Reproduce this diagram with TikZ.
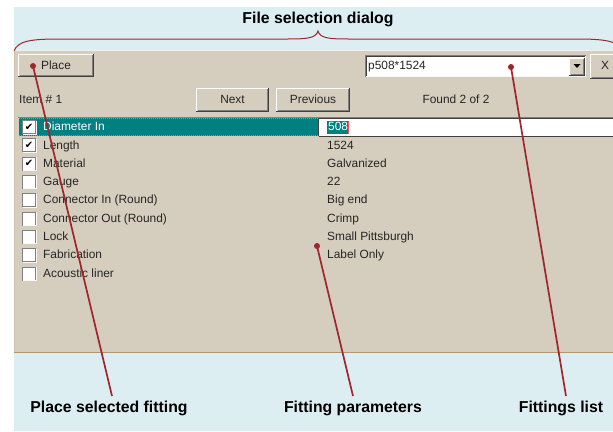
\documentclass[tikz,border=0pt]{standalone}
\usepackage{fontspec}
\setmainfont{Liberation Sans}
\newfontfamily\symfont{DejaVu Sans}
\definecolor{bgblue}{RGB}{221,238,243}
\definecolor{paneltan}{RGB}{213,205,189}
\definecolor{seltealc}{RGB}{0,128,128}
\definecolor{leaderred}{RGB}{158,38,44}
\definecolor{shadowgray}{RGB}{128,128,128}
\definecolor{darkedge}{RGB}{64,64,64}
\definecolor{paneledge}{RGB}{176,150,110}
\tikzset{
  dlgtext/.style={font=\fontsize{11.9}{13}\selectfont, text=black!85, inner sep=0pt, anchor=west, text height=9.8pt, text depth=2.4pt},
  calltext/.style={font=\fontsize{15.8}{18}\selectfont\bfseries, text=black, inner sep=0pt},
  leader/.style={draw=leaderred, line width=1.7pt},
  leaderdot/.style={circle, fill=leaderred, inner sep=0pt, minimum size=6pt},
  chkbox/.style={draw=shadowgray, fill=white, line width=0.8pt, minimum size=13pt, inner sep=0pt},
}
\newcommand{\raisedbtn}[5]{% name, x1, y1, x2, y2
  \fill[paneltan] (#2,#3) rectangle (#4,#5);
  \draw[white, line width=1pt] (#2+0.5,#5) -- (#2+0.5,#3+0.5) -- (#4,#3+0.5);
  \draw[darkedge, line width=1pt] (#2,#5-0.5) -- (#4-0.5,#5-0.5) -- (#4-0.5,#3);
  \draw[shadowgray, line width=1pt] (#2+1.5,#5-1.5) -- (#4-1.5,#5-1.5) -- (#4-1.5,#3+1);
  \coordinate (#1) at ($(#2,#3)!0.5!(#4,#5)$);
}
\usetikzlibrary{calc}
\begin{document}
\begin{tikzpicture}[x=1pt,y=-1pt]
\useasboundingbox (0,0) rectangle (613,431);
\clip (0,0) rectangle (613,431);
% backgrounds
\fill[bgblue] (14,7) rectangle (613,431);
\fill[paneltan] (14,50) rectangle (613,352);
\draw[paneledge, line width=0.8pt] (14,352) -- (613,352);
\draw[paneledge!60, line width=0.6pt] (14,50) -- (14,352);
\draw[white!70!paneltan, line width=0.6pt] (14,50) -- (613,50);

% title and brace
\node[calltext] (title) at (318,19) {File selection dialog};
\draw[leaderred, line width=1pt] (14,51) .. controls (18,41) and (30,39) .. (60,39) -- (288,39)
  .. controls (308,39) and (316,38) .. (318,31)
  .. controls (320,38) and (328,39) .. (348,39) -- (576,39)
  .. controls (606,39) and (618,41) .. (622,51);

% top row
\raisedbtn{placebtn}{18}{54}{94}{77}
\node[dlgtext, anchor=center] (placelbl) at (56,65.5) {Place};

% combo box
\fill[white] (365,55) rectangle (586,77);
\draw[shadowgray, line width=1pt] (365.5,77) -- (365.5,55.5) -- (586,55.5);
\draw[darkedge, line width=1pt] (366.5,76) -- (366.5,56.5) -- (585,56.5);
\draw[white!80!paneltan, line width=1pt] (366,76.5) -- (585.5,76.5) -- (585.5,56);
\node[dlgtext] (combotext) at (368,66) {p508*1524};
\raisedbtn{dropbtn}{569}{57.5}{584.5}{75.5}
\fill[black] (573.5,64) -- (580.5,64) -- (577,68) -- cycle;

\raisedbtn{closebtn}{590}{54}{625}{79}
\node[dlgtext, anchor=center] (closelbl) at (605,66) {X};

% second row
\node[dlgtext] (itemno) at (19,100) {Item \# 1};
\raisedbtn{nextbtn}{196}{88}{269}{112}
\node[dlgtext, anchor=center] (nextlbl) at (232.5,99.5) {Next};
\raisedbtn{prevbtn}{276}{88}{350}{112}
\node[dlgtext, anchor=center] (prevlbl) at (313,99.5) {Previous};
\node[dlgtext, anchor=center] (found) at (456,100) {Found 2 of 2};

% list
\draw[shadowgray, line width=0.8pt] (18,117) -- (613,117);
\fill[seltealc] (19,118) rectangle (318,136);
\draw[leaderred!60, line width=0.5pt, dash pattern=on 1pt off 1pt] (19,118.5) -- (318,118.5);
\draw[leaderred!60, line width=0.5pt, dash pattern=on 1pt off 1pt] (19,135.5) -- (318,135.5);
\fill[white] (318,118) rectangle (613,136);
\draw[darkedge, line width=1pt] (318.5,136) -- (318.5,118.5) -- (613,118.5);
\draw[darkedge, line width=0.6pt] (318.5,136) -- (613,136);
\fill[seltealc] (327,120.5) rectangle (348,134);
\draw[red!70, line width=0.8pt] (348,120.5) -- (348,134);

\foreach \i/\lbl/\val/\chk in {
  0/Diameter In/508/1,
  1/Length/1524/1,
  2/Material/Galvanized/1,
  3/Gauge/22/0,
  4/Connector In (Round)/Big end/0,
  5/Connector Out (Round)/Crimp/0,
  6/Lock/Small Pittsburgh/0,
  7/Fabrication/Label Only/0,
  8/Acoustic liner//0}{
  \pgfmathsetmacro{\yy}{127+18.3*\i}
  \node[chkbox] (cb\i) at (29,\yy) {};
  \draw[white!85!paneltan, line width=0.8pt] ($(cb\i.south west)+(0.4,0)$) -- ($(cb\i.south east)+(0,0)$) -- ($(cb\i.north east)+(0,0.4)$);
  \ifnum\chk=1
    \node[font=\symfont\fontsize{10}{10}\selectfont\bfseries, inner sep=0pt] (ck\i) at (29,\yy) {✔};
  \fi
  \ifnum\i=0
    \node[dlgtext, text=white] (lbl\i) at (43,\yy) {\lbl};
    \node[dlgtext, text=white] (val\i) at (328,\yy) {\val};
  \else
    \node[dlgtext] (lbl\i) at (43,\yy) {\lbl};
    \node[dlgtext] (val\i) at (327,\yy) {\val};
  \fi
}

% callouts
\node[calltext] (placecall) at (109,408) {Place selected fitting};
\node[calltext] (paramcall) at (353,408) {Fitting parameters};
\node[calltext] (listcall) at (561,408) {Fittings list};

\node[leaderdot] (d1) at (33,66) {};
\node[leaderdot] (d2) at (317,246) {};
\node[leaderdot] (d3) at (511,67) {};
\coordinate (e1) at (112,396);
\coordinate (e2) at (353,396);
\coordinate (e3) at (566,396);
\draw[leader] (d1.center) -- (e1);
\draw[leader] (d2.center) -- (e2);
\draw[leader] (d3.center) -- (e3);
\end{tikzpicture}
\end{document}
